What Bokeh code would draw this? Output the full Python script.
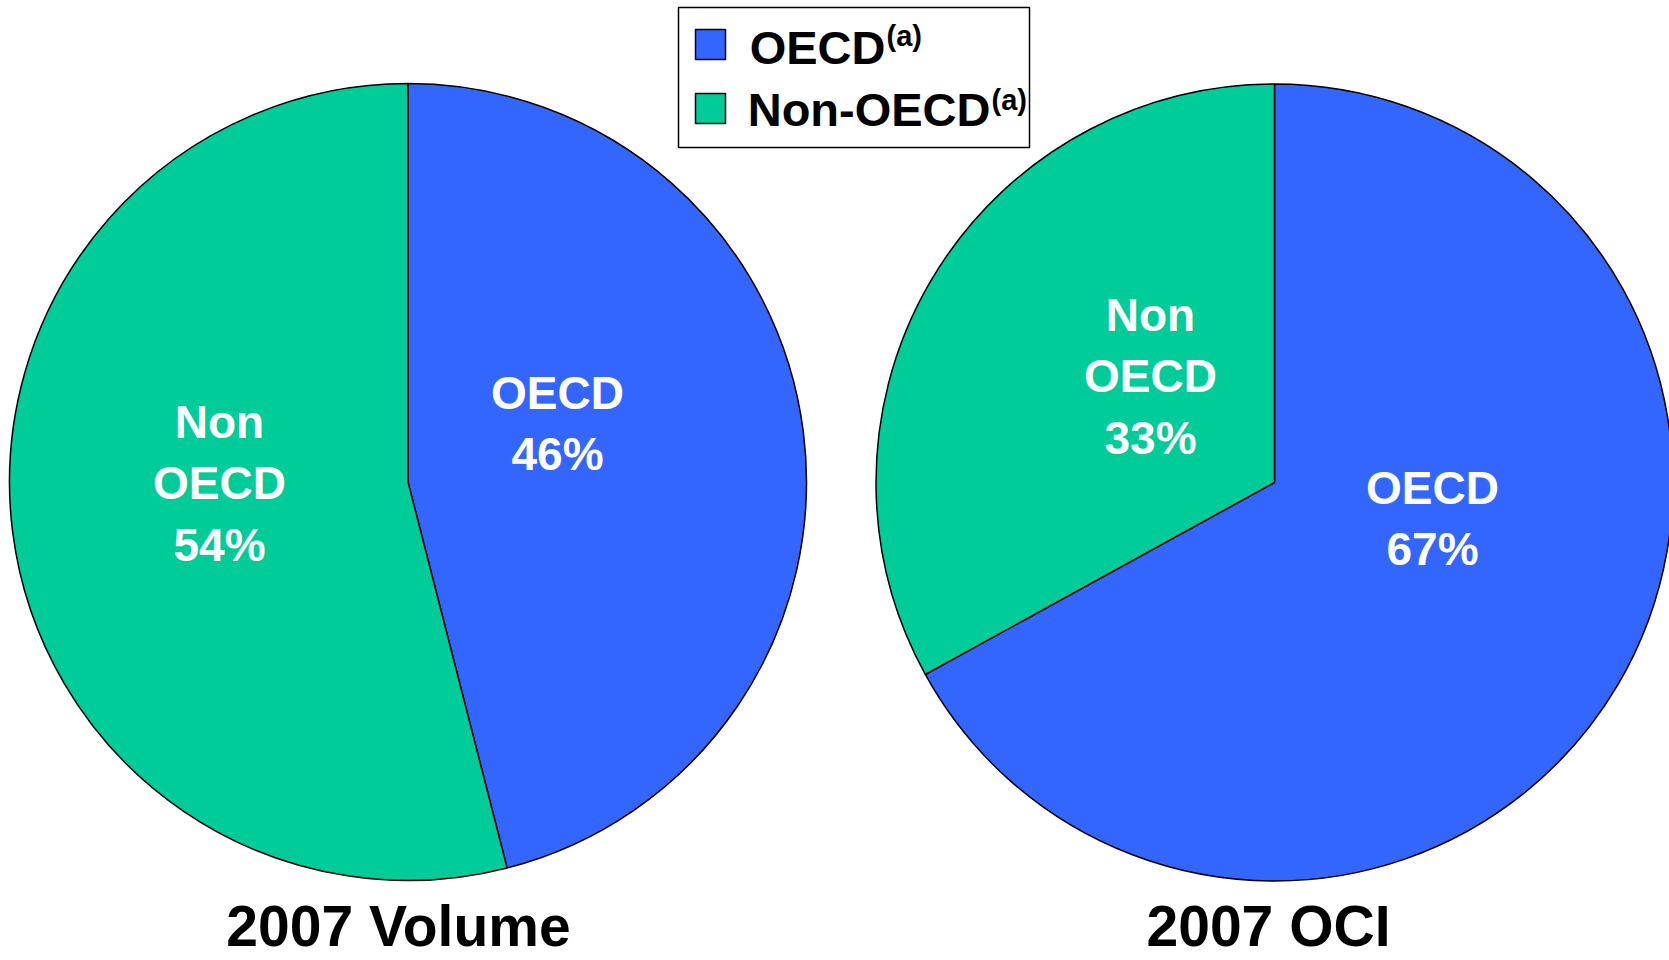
import numpy as np
from bokeh.plotting import figure
from bokeh.models import Range1d, ColumnDataSource
from bokeh.core.properties import value
from bokeh.embed import file_html
from bokeh.resources import INLINE

# ---- data ----
categories = ["OECD", "Non-OECD"]
colors = ["#3366FF", "#00CC99"]
volume_share = [46, 54]
oci_share = [67, 33]
pie_titles = ["2007 Volume", "2007 OCI"]
legend_note = "(a)"

# ---- layout (page pixels) ----
W, H = 1669, 960
FONT = value("Liberation Sans")
BASE_FIX = 0.36  # renderer places alphabetic baseline lower by ~0.36 em

def Y(page_y):
    return H - page_y

def TY(page_baseline, fs):
    return Y(page_baseline - BASE_FIX * fs)

p = figure(width=W, height=H, output_backend="svg", toolbar_location=None,
           x_range=Range1d(0, W), y_range=Range1d(0, H),
           x_axis_location=None, y_axis_location=None, min_border=0)
p.grid.visible = False
p.outline_line_color = None
p.background_fill_color = "white"
p.border_fill_color = "white"

pie_centers = [(407.5, 481.5), (1274.0, 482.0)]
pie_radius = 398.5
# label anchors: (center x, first-line baseline) per category per pie
label_anchors = [
    [(557, 409), (219, 438)],
    [(1432, 504), (1150, 331)],
]
title_x = [398, 1268]
line_gap = 61.5
LFS, TFS, GFS, SFS = 46, 57, 47, 29

for k, shares in enumerate([volume_share, oci_share]):
    cx, cy = pie_centers[k]
    vals = np.array(shares, dtype=float)
    frac = vals / vals.sum()
    cum = np.concatenate([[0], np.cumsum(frac)])
    start = np.pi / 2 - 2 * np.pi * cum[1:]
    end = np.pi / 2 - 2 * np.pi * cum[:-1]
    src = ColumnDataSource(dict(x=[cx] * len(vals), y=[Y(cy)] * len(vals),
                                start=start, end=end, color=colors))
    p.wedge(x="x", y="y", radius=pie_radius, radius_units="screen",
            start_angle="start", end_angle="end", fill_color="color",
            line_color="black", line_width=1.5, source=src)
    # labels
    xs, ys, ts = [], [], []
    for i, cat in enumerate(categories):
        lines = cat.split("-") + [f"{shares[i]}%"]
        ax, ay = label_anchors[k][i]
        for j, t in enumerate(lines):
            xs.append(ax)
            ys.append(TY(ay + j * line_gap, LFS))
            ts.append(t)
    p.text(x=xs, y=ys, text=ts, text_font=FONT, text_font_style="bold",
           text_font_size=f"{LFS}px", text_color="white", text_align="center",
           text_baseline="alphabetic")
    p.text(x=[title_x[k]], y=[TY(946, TFS)], text=[pie_titles[k]], text_font=FONT,
           text_font_style="bold", text_font_size=f"{TFS}px", text_color="black",
           text_align="center", text_baseline="alphabetic")

# ---- legend ----
p.quad(left=[678], right=[1029], top=[Y(7)], bottom=[Y(147)],
       fill_color="white", line_color="black", line_width=1.5)
sw_top = [29, 93]
text_end = [885, 990]
text_base = [64, 126]
sup_base = [46, 110]
for i, cat in enumerate(categories):
    p.quad(left=[695], right=[725], top=[Y(sw_top[i])], bottom=[Y(sw_top[i] + 30)],
           fill_color=colors[i], line_color="black", line_width=1.5)
    p.text(x=[text_end[i]], y=[TY(text_base[i], GFS)], text=[cat], text_font=FONT,
           text_font_style="bold", text_font_size=f"{GFS}px", text_color="black",
           text_align="right", text_baseline="alphabetic")
    p.text(x=[text_end[i] + 1], y=[TY(sup_base[i], SFS)], text=[legend_note], text_font=FONT,
           text_font_style="bold", text_font_size=f"{SFS}px", text_color="black",
           text_align="left", text_baseline="alphabetic")

open("out.html", "w").write(file_html(p, INLINE))
